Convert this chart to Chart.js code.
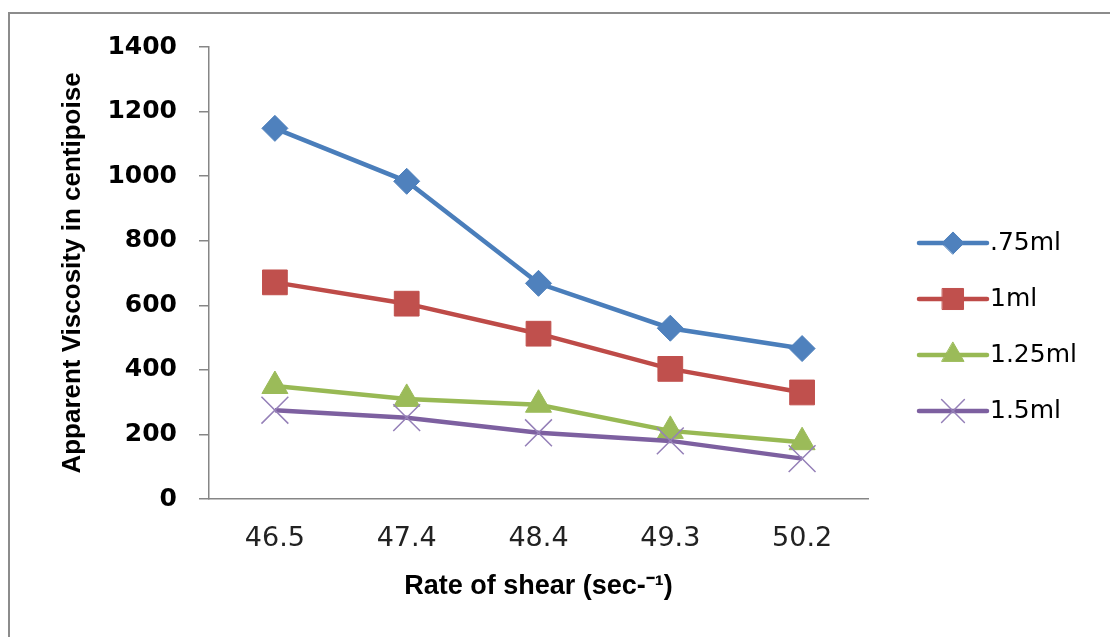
<!DOCTYPE html>
<html>
<head>
<meta charset="utf-8">
<script src="https://cdn.jsdelivr.net/npm/chart.js@4/dist/chart.umd.min.js"></script>
<style>
  html, body { margin: 0; padding: 0; background: #ffffff; }
  #wrap { position: relative; width: 1110px; height: 637px; }
</style>
</head>
<body>
<div id="wrap"><canvas id="c" width="1110" height="637"></canvas></div>
<script>
// Rate of shear categories (sec^-1)
const categories = ['46.5', '47.4', '48.4', '49.3', '50.2'];

// Apparent viscosity (centipoise) for each additive volume
const series075 = [1148, 984, 668, 529, 466];
const series100 = [671, 605, 512, 403, 330];
const series125 = [350, 310, 292, 211, 176];
const series150 = [275, 252, 205, 180, 125];

const seriesNames = ['.75ml', '1ml', '1.25ml', '1.5ml'];
const yTicks = [0, 200, 400, 600, 800, 1000, 1200, 1400];

const AXIS_GRAY = '#868686';

function lineSeries(label, data, color, markerColor, style, radius, pbw, order) {
  return {
    label: label,
    data: data,
    borderColor: color,
    backgroundColor: markerColor,
    borderWidth: 4.5,
    tension: 0,
    pointStyle: style,
    pointRadius: radius,
    pointHoverRadius: radius,
    pointBackgroundColor: markerColor,
    pointBorderColor: markerColor,
    pointBorderWidth: pbw,
    order: order
  };
}

// Gray frame around the chart area of the sheet
const framePlugin = {
  id: 'frame',
  beforeDraw(chart) {
    const ctx = chart.ctx;
    ctx.save();
    ctx.fillStyle = '#ffffff';
    ctx.fillRect(0, 0, chart.width, chart.height);
    ctx.strokeStyle = '#8c8c8c';
    ctx.lineWidth = 2;
    ctx.strokeRect(9, 13, 1400, 900);
    ctx.restore();
  }
};

// Legend on the right: line segment with the series marker and its name
const sideLegend = {
  id: 'sideLegend',
  afterDraw(chart) {
    const ctx = chart.ctx;
    chart.data.datasets.forEach((ds, i) => {
      const y = 243 + i * 56;
      ctx.save();
      ctx.strokeStyle = ds.borderColor;
      ctx.lineWidth = ds.borderWidth;
      ctx.lineCap = 'round';
      ctx.beginPath();
      ctx.moveTo(919, y);
      ctx.lineTo(987, y);
      ctx.stroke();
      ctx.fillStyle = ds.pointBackgroundColor;
      ctx.strokeStyle = ds.pointBorderColor;
      ctx.lineWidth = ds.pointBorderWidth;
      Chart.helpers.drawPoint(ctx, {
        pointStyle: ds.pointStyle,
        radius: ds.pointRadius * 0.85,
        borderWidth: ds.pointBorderWidth,
        rotation: 0
      }, 953, y);
      ctx.fillStyle = '#000000';
      ctx.font = '25px "DejaVu Sans"';
      ctx.textAlign = 'left';
      ctx.textBaseline = 'middle';
      ctx.fillText(ds.label, 990, y);
      ctx.restore();
    });
  }
};

new Chart(document.getElementById('c'), {
  type: 'line',
  data: {
    labels: categories,
    datasets: [
      lineSeries(seriesNames[0], series075, '#4A7EBB', '#4F81BD', 'rectRot', 13, 1, 4),
      lineSeries(seriesNames[1], series100, '#BE4B48', '#C0504D', 'rect', 17.5, 1, 3),
      lineSeries(seriesNames[2], series125, '#98B954', '#9BBB59', 'triangle', 15, 1, 2),
      lineSeries(seriesNames[3], series150, '#7D60A0', '#9580B8', 'crossRot', 19, 1.5, 1)
    ]
  },
  options: {
    responsive: false,
    animation: false,
    devicePixelRatio: 1,
    layout: { padding: { left: 57, right: 242, top: 47, bottom: 34 } },
    plugins: {
      legend: { display: false },
      tooltip: { enabled: false },
      title: { display: false }
    },
    scales: {
      x: {
        type: 'category',
        offset: true,
        grid: { display: false, drawTicks: false, drawOnChartArea: false },
        border: { display: true, color: AXIS_GRAY, width: 1.5 },
        ticks: {
          color: '#222222',
          font: { family: '"DejaVu Sans"', size: 27 },
          padding: 24,
          maxRotation: 0,
          autoSkip: false
        },
        title: {
          display: true,
          text: 'Rate of shear (sec-\u207B\u00B9)',
          color: '#000000',
          font: { family: '"Liberation Sans"', size: 27, weight: 'bold' },
          padding: 0
        },
        afterFit(scale) { scale.height = 104; }
      },
      y: {
        min: 0,
        max: 1400,
        grid: {
          display: true,
          drawOnChartArea: false,
          drawTicks: true,
          tickLength: 10,
          color: AXIS_GRAY,
          lineWidth: 1.5
        },
        border: { display: true, color: AXIS_GRAY, width: 1.5 },
        afterBuildTicks(scale) {
          scale.ticks = yTicks.map(v => ({ value: v }));
        },
        ticks: {
          color: '#000000',
          font: { family: '"DejaVu Sans"', size: 25, weight: 'bold' },
          padding: 22,
          callback: v => String(v)
        },
        title: {
          display: true,
          text: 'Apparent Viscosity in centipoise',
          color: '#000000',
          font: { family: '"Liberation Sans"', size: 26, weight: 'bold' },
          padding: 0
        },
        afterFit(scale) { scale.width = 152; }
      }
    }
  },
  plugins: [framePlugin, sideLegend]
});
</script>
</body>
</html>
